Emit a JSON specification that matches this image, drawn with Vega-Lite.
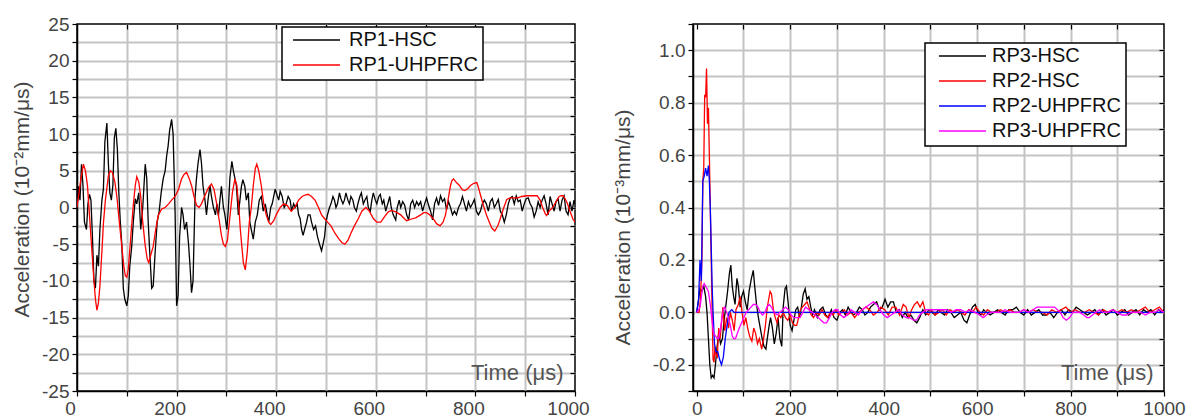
{
"$schema":"https://vega.github.io/schema/vega-lite/v6.json",
"padding":{"left":10,"top":14,"right":5,"bottom":5},
"bounds":"flush",
"spacing":118,
"background":"white",
"config":{
 "view":{"stroke":"black","strokeWidth":1.5},
 "font":"Liberation Sans",
 "axis":{"domainColor":"black","domainWidth":1.5,"tickColor":"black","tickWidth":1.2,"tickSize":5,"gridColor":"#c4c4c4","gridWidth":2,"grid":true,"labelFont":"Liberation Sans","labelFontSize":19,"labelColor":"#444","labelPadding":3,"labelFlush":false,"labelOverlap":false,"titleFont":"Liberation Sans","titleFontSize":21,"titleFontWeight":"normal","titleColor":"#444"},
 "legend":{"orient":"none","strokeColor":"black","strokeWidth":1.5,"fillColor":"white","padding":5,"symbolType":"stroke","symbolSize":2209,"symbolStrokeWidth":1.5,"labelFontSize":20,"labelFont":"Liberation Sans","labelColor":"#111","clipHeight":16,"rowPadding":5,"labelOffset":8,"symbolOffset":5}
},
"resolve":{"scale":{"color":"independent"},"legend":{"color":"independent"}},
"datasets":{
"L":[
{"s":"RP1-HSC","t":0,"v":0},{"s":"RP1-HSC","t":3,"v":2.9},{"s":"RP1-HSC","t":6,"v":1},{"s":"RP1-HSC","t":9,"v":5.9},{"s":"RP1-HSC","t":12,"v":3},{"s":"RP1-HSC","t":15,"v":-2},{"s":"RP1-HSC","t":19,"v":-3},{"s":"RP1-HSC","t":22,"v":0.5},{"s":"RP1-HSC","t":25,"v":1.8},{"s":"RP1-HSC","t":28,"v":1},{"s":"RP1-HSC","t":31,"v":-4},{"s":"RP1-HSC","t":34,"v":-10},{"s":"RP1-HSC","t":37,"v":-11},{"s":"RP1-HSC","t":40,"v":-6.5},{"s":"RP1-HSC","t":43,"v":-8},{"s":"RP1-HSC","t":46,"v":-3},{"s":"RP1-HSC","t":50,"v":1},{"s":"RP1-HSC","t":53,"v":2.5},{"s":"RP1-HSC","t":56,"v":9},{"s":"RP1-HSC","t":60,"v":11.5},{"s":"RP1-HSC","t":63,"v":6},{"s":"RP1-HSC","t":66,"v":2},{"s":"RP1-HSC","t":69,"v":1},{"s":"RP1-HSC","t":72,"v":3},{"s":"RP1-HSC","t":75,"v":9.5},{"s":"RP1-HSC","t":78,"v":10.8},{"s":"RP1-HSC","t":81,"v":8},{"s":"RP1-HSC","t":84,"v":2},{"s":"RP1-HSC","t":87,"v":-2},{"s":"RP1-HSC","t":90,"v":-5},{"s":"RP1-HSC","t":93,"v":-11},{"s":"RP1-HSC","t":96,"v":-12.5},{"s":"RP1-HSC","t":100,"v":-13.4},{"s":"RP1-HSC","t":103,"v":-12},{"s":"RP1-HSC","t":106,"v":-8},{"s":"RP1-HSC","t":110,"v":-5.2},{"s":"RP1-HSC","t":113,"v":-2},{"s":"RP1-HSC","t":117,"v":1.2},{"s":"RP1-HSC","t":120,"v":0.5},{"s":"RP1-HSC","t":124,"v":2},{"s":"RP1-HSC","t":128,"v":-3},{"s":"RP1-HSC","t":132,"v":0},{"s":"RP1-HSC","t":137,"v":5.9},{"s":"RP1-HSC","t":140,"v":4},{"s":"RP1-HSC","t":143,"v":-2},{"s":"RP1-HSC","t":146,"v":-6},{"s":"RP1-HSC","t":150,"v":-11},{"s":"RP1-HSC","t":153,"v":-10.7},{"s":"RP1-HSC","t":157,"v":-6},{"s":"RP1-HSC","t":161,"v":-2},{"s":"RP1-HSC","t":165,"v":-0.5},{"s":"RP1-HSC","t":169,"v":2},{"s":"RP1-HSC","t":173,"v":3.9},{"s":"RP1-HSC","t":177,"v":5},{"s":"RP1-HSC","t":180,"v":7},{"s":"RP1-HSC","t":183,"v":8.4},{"s":"RP1-HSC","t":186,"v":10.5},{"s":"RP1-HSC","t":190,"v":12},{"s":"RP1-HSC","t":193,"v":10},{"s":"RP1-HSC","t":197,"v":-0.7},{"s":"RP1-HSC","t":200,"v":-13.4},{"s":"RP1-HSC","t":203,"v":-12},{"s":"RP1-HSC","t":206,"v":-4},{"s":"RP1-HSC","t":210,"v":0},{"s":"RP1-HSC","t":213,"v":-1},{"s":"RP1-HSC","t":216,"v":-3},{"s":"RP1-HSC","t":220,"v":-2},{"s":"RP1-HSC","t":224,"v":-5},{"s":"RP1-HSC","t":227,"v":-8},{"s":"RP1-HSC","t":230,"v":-11.6},{"s":"RP1-HSC","t":233,"v":-10},{"s":"RP1-HSC","t":237,"v":1.3},{"s":"RP1-HSC","t":240,"v":4},{"s":"RP1-HSC","t":243,"v":6},{"s":"RP1-HSC","t":247,"v":7.9},{"s":"RP1-HSC","t":250,"v":6},{"s":"RP1-HSC","t":253,"v":3},{"s":"RP1-HSC","t":257,"v":1},{"s":"RP1-HSC","t":260,"v":-1},{"s":"RP1-HSC","t":263,"v":1},{"s":"RP1-HSC","t":267,"v":3},{"s":"RP1-HSC","t":270,"v":1.5},{"s":"RP1-HSC","t":274,"v":0},{"s":"RP1-HSC","t":278,"v":-1},{"s":"RP1-HSC","t":281,"v":0.5},{"s":"RP1-HSC","t":284,"v":-1.1},{"s":"RP1-HSC","t":287,"v":1},{"s":"RP1-HSC","t":290,"v":2.9},{"s":"RP1-HSC","t":294,"v":0},{"s":"RP1-HSC","t":297,"v":-1},{"s":"RP1-HSC","t":301,"v":-3},{"s":"RP1-HSC","t":304,"v":0},{"s":"RP1-HSC","t":307,"v":4},{"s":"RP1-HSC","t":311,"v":6.3},{"s":"RP1-HSC","t":314,"v":5},{"s":"RP1-HSC","t":317,"v":4},{"s":"RP1-HSC","t":320,"v":3},{"s":"RP1-HSC","t":324,"v":-1},{"s":"RP1-HSC","t":327,"v":0.9},{"s":"RP1-HSC","t":330,"v":2.8},{"s":"RP1-HSC","t":333,"v":3.8},{"s":"RP1-HSC","t":337,"v":2.9},{"s":"RP1-HSC","t":340,"v":1},{"s":"RP1-HSC","t":344,"v":2},{"s":"RP1-HSC","t":347,"v":-2},{"s":"RP1-HSC","t":350,"v":-3},{"s":"RP1-HSC","t":354,"v":-4.3},{"s":"RP1-HSC","t":358,"v":-2},{"s":"RP1-HSC","t":362,"v":-1},{"s":"RP1-HSC","t":366,"v":1},{"s":"RP1-HSC","t":370,"v":1.5},{"s":"RP1-HSC","t":374,"v":-0.5},{"s":"RP1-HSC","t":378,"v":0.5},{"s":"RP1-HSC","t":382,"v":-1},{"s":"RP1-HSC","t":385,"v":-2},{"s":"RP1-HSC","t":389,"v":0},{"s":"RP1-HSC","t":392,"v":0.5},{"s":"RP1-HSC","t":395,"v":1.5},{"s":"RP1-HSC","t":398,"v":2.5},{"s":"RP1-HSC","t":402,"v":1.6},{"s":"RP1-HSC","t":405,"v":1},{"s":"RP1-HSC","t":408,"v":2.2},{"s":"RP1-HSC","t":412,"v":1.5},{"s":"RP1-HSC","t":416,"v":0},{"s":"RP1-HSC","t":420,"v":0.5},{"s":"RP1-HSC","t":424,"v":1.5},{"s":"RP1-HSC","t":428,"v":1},{"s":"RP1-HSC","t":431,"v":-0.5},{"s":"RP1-HSC","t":435,"v":0.5},{"s":"RP1-HSC","t":438,"v":0},{"s":"RP1-HSC","t":442,"v":0.5},{"s":"RP1-HSC","t":445,"v":-1},{"s":"RP1-HSC","t":448,"v":-1.5},{"s":"RP1-HSC","t":451,"v":-3},{"s":"RP1-HSC","t":454,"v":-3.8},{"s":"RP1-HSC","t":457,"v":-3},{"s":"RP1-HSC","t":461,"v":-2},{"s":"RP1-HSC","t":464,"v":-1},{"s":"RP1-HSC","t":468,"v":-1},{"s":"RP1-HSC","t":471,"v":-2},{"s":"RP1-HSC","t":475,"v":-3},{"s":"RP1-HSC","t":479,"v":-2.5},{"s":"RP1-HSC","t":483,"v":-4},{"s":"RP1-HSC","t":487,"v":-5},{"s":"RP1-HSC","t":491,"v":-5.9},{"s":"RP1-HSC","t":494,"v":-5},{"s":"RP1-HSC","t":497,"v":-4},{"s":"RP1-HSC","t":500,"v":-2},{"s":"RP1-HSC","t":503,"v":-1},{"s":"RP1-HSC","t":507,"v":0},{"s":"RP1-HSC","t":510,"v":0.5},{"s":"RP1-HSC","t":514,"v":1.5},{"s":"RP1-HSC","t":517,"v":1},{"s":"RP1-HSC","t":520,"v":0},{"s":"RP1-HSC","t":523,"v":0.5},{"s":"RP1-HSC","t":527,"v":2},{"s":"RP1-HSC","t":530,"v":1.2},{"s":"RP1-HSC","t":534,"v":0.5},{"s":"RP1-HSC","t":537,"v":1},{"s":"RP1-HSC","t":540,"v":2},{"s":"RP1-HSC","t":544,"v":1},{"s":"RP1-HSC","t":547,"v":0.5},{"s":"RP1-HSC","t":550,"v":1.5},{"s":"RP1-HSC","t":554,"v":1},{"s":"RP1-HSC","t":557,"v":0},{"s":"RP1-HSC","t":561,"v":-0.5},{"s":"RP1-HSC","t":564,"v":0.5},{"s":"RP1-HSC","t":568,"v":1.5},{"s":"RP1-HSC","t":571,"v":2},{"s":"RP1-HSC","t":575,"v":0.5},{"s":"RP1-HSC","t":578,"v":1},{"s":"RP1-HSC","t":582,"v":1.5},{"s":"RP1-HSC","t":585,"v":0},{"s":"RP1-HSC","t":589,"v":-0.5},{"s":"RP1-HSC","t":592,"v":1},{"s":"RP1-HSC","t":595,"v":2},{"s":"RP1-HSC","t":599,"v":1},{"s":"RP1-HSC","t":602,"v":0.5},{"s":"RP1-HSC","t":606,"v":1.5},{"s":"RP1-HSC","t":609,"v":1.8},{"s":"RP1-HSC","t":613,"v":0.5},{"s":"RP1-HSC","t":616,"v":1},{"s":"RP1-HSC","t":620,"v":-0.5},{"s":"RP1-HSC","t":624,"v":0.5},{"s":"RP1-HSC","t":628,"v":1.5},{"s":"RP1-HSC","t":631,"v":0},{"s":"RP1-HSC","t":635,"v":-1},{"s":"RP1-HSC","t":640,"v":-1.7},{"s":"RP1-HSC","t":643,"v":0},{"s":"RP1-HSC","t":647,"v":1},{"s":"RP1-HSC","t":650,"v":0},{"s":"RP1-HSC","t":654,"v":0.8},{"s":"RP1-HSC","t":658,"v":0.3},{"s":"RP1-HSC","t":662,"v":-1},{"s":"RP1-HSC","t":666,"v":-1.7},{"s":"RP1-HSC","t":670,"v":0.5},{"s":"RP1-HSC","t":674,"v":1},{"s":"RP1-HSC","t":678,"v":0},{"s":"RP1-HSC","t":682,"v":0.8},{"s":"RP1-HSC","t":686,"v":0.3},{"s":"RP1-HSC","t":690,"v":0.8},{"s":"RP1-HSC","t":694,"v":-0.5},{"s":"RP1-HSC","t":698,"v":0.5},{"s":"RP1-HSC","t":702,"v":1.3},{"s":"RP1-HSC","t":706,"v":0.3},{"s":"RP1-HSC","t":710,"v":-0.5},{"s":"RP1-HSC","t":714,"v":-1.7},{"s":"RP1-HSC","t":718,"v":0.5},{"s":"RP1-HSC","t":722,"v":1.3},{"s":"RP1-HSC","t":726,"v":0.3},{"s":"RP1-HSC","t":730,"v":1.6},{"s":"RP1-HSC","t":734,"v":0.8},{"s":"RP1-HSC","t":738,"v":1.2},{"s":"RP1-HSC","t":742,"v":-0.3},{"s":"RP1-HSC","t":746,"v":0.8},{"s":"RP1-HSC","t":750,"v":0},{"s":"RP1-HSC","t":754,"v":-1},{"s":"RP1-HSC","t":758,"v":-0.5},{"s":"RP1-HSC","t":762,"v":-1},{"s":"RP1-HSC","t":766,"v":0},{"s":"RP1-HSC","t":770,"v":0.5},{"s":"RP1-HSC","t":774,"v":1.5},{"s":"RP1-HSC","t":778,"v":0.5},{"s":"RP1-HSC","t":782,"v":-0.5},{"s":"RP1-HSC","t":786,"v":0.8},{"s":"RP1-HSC","t":790,"v":0},{"s":"RP1-HSC","t":794,"v":0.5},{"s":"RP1-HSC","t":798,"v":1.1},{"s":"RP1-HSC","t":802,"v":-0.5},{"s":"RP1-HSC","t":806,"v":-1},{"s":"RP1-HSC","t":810,"v":-0.5},{"s":"RP1-HSC","t":814,"v":0.5},{"s":"RP1-HSC","t":818,"v":1},{"s":"RP1-HSC","t":822,"v":0.5},{"s":"RP1-HSC","t":826,"v":-0.5},{"s":"RP1-HSC","t":830,"v":0.8},{"s":"RP1-HSC","t":834,"v":1.2},{"s":"RP1-HSC","t":838,"v":0},{"s":"RP1-HSC","t":842,"v":0.5},{"s":"RP1-HSC","t":846,"v":1.1},{"s":"RP1-HSC","t":850,"v":-0.5},{"s":"RP1-HSC","t":854,"v":-1},{"s":"RP1-HSC","t":858,"v":-2},{"s":"RP1-HSC","t":862,"v":-1},{"s":"RP1-HSC","t":866,"v":0.5},{"s":"RP1-HSC","t":870,"v":1.3},{"s":"RP1-HSC","t":874,"v":1.5},{"s":"RP1-HSC","t":878,"v":0.5},{"s":"RP1-HSC","t":882,"v":1.6},{"s":"RP1-HSC","t":886,"v":0.8},{"s":"RP1-HSC","t":890,"v":1},{"s":"RP1-HSC","t":894,"v":-0.5},{"s":"RP1-HSC","t":898,"v":0.5},{"s":"RP1-HSC","t":902,"v":1.2},{"s":"RP1-HSC","t":906,"v":1.3},{"s":"RP1-HSC","t":910,"v":0.5},{"s":"RP1-HSC","t":914,"v":0},{"s":"RP1-HSC","t":918,"v":-1.3},{"s":"RP1-HSC","t":922,"v":-0.5},{"s":"RP1-HSC","t":926,"v":0.8},{"s":"RP1-HSC","t":930,"v":0},{"s":"RP1-HSC","t":934,"v":1},{"s":"RP1-HSC","t":938,"v":1.6},{"s":"RP1-HSC","t":942,"v":0.5},{"s":"RP1-HSC","t":946,"v":-1},{"s":"RP1-HSC","t":950,"v":1.5},{"s":"RP1-HSC","t":954,"v":0.5},{"s":"RP1-HSC","t":958,"v":-0.5},{"s":"RP1-HSC","t":962,"v":0.8},{"s":"RP1-HSC","t":966,"v":1.2},{"s":"RP1-HSC","t":970,"v":-0.5},{"s":"RP1-HSC","t":974,"v":1},{"s":"RP1-HSC","t":978,"v":1.6},{"s":"RP1-HSC","t":982,"v":-0.5},{"s":"RP1-HSC","t":986,"v":-1},{"s":"RP1-HSC","t":990,"v":0.8},{"s":"RP1-HSC","t":994,"v":-0.5},{"s":"RP1-HSC","t":998,"v":1},{"s":"RP1-HSC","t":1000,"v":0.5},
{"s":"RP1-UHPFRC","t":0,"v":0},{"s":"RP1-UHPFRC","t":4,"v":2},{"s":"RP1-UHPFRC","t":8,"v":4},{"s":"RP1-UHPFRC","t":13,"v":5.9},{"s":"RP1-UHPFRC","t":17,"v":5},{"s":"RP1-UHPFRC","t":21,"v":3},{"s":"RP1-UHPFRC","t":25,"v":-1},{"s":"RP1-UHPFRC","t":29,"v":-5},{"s":"RP1-UHPFRC","t":33,"v":-9},{"s":"RP1-UHPFRC","t":37,"v":-12.5},{"s":"RP1-UHPFRC","t":40,"v":-14},{"s":"RP1-UHPFRC","t":43,"v":-13},{"s":"RP1-UHPFRC","t":46,"v":-10.7},{"s":"RP1-UHPFRC","t":50,"v":-6},{"s":"RP1-UHPFRC","t":53,"v":-2.2},{"s":"RP1-UHPFRC","t":57,"v":1},{"s":"RP1-UHPFRC","t":63,"v":4.3},{"s":"RP1-UHPFRC","t":67,"v":5},{"s":"RP1-UHPFRC","t":71,"v":4.8},{"s":"RP1-UHPFRC","t":76,"v":3.5},{"s":"RP1-UHPFRC","t":80,"v":1.5},{"s":"RP1-UHPFRC","t":85,"v":-2},{"s":"RP1-UHPFRC","t":90,"v":-5.3},{"s":"RP1-UHPFRC","t":94,"v":-8},{"s":"RP1-UHPFRC","t":97,"v":-9.3},{"s":"RP1-UHPFRC","t":100,"v":-9.5},{"s":"RP1-UHPFRC","t":103,"v":-8.4},{"s":"RP1-UHPFRC","t":108,"v":-4},{"s":"RP1-UHPFRC","t":113,"v":0.3},{"s":"RP1-UHPFRC","t":117,"v":3},{"s":"RP1-UHPFRC","t":120,"v":4.2},{"s":"RP1-UHPFRC","t":124,"v":3.5},{"s":"RP1-UHPFRC","t":128,"v":1.5},{"s":"RP1-UHPFRC","t":132,"v":-2},{"s":"RP1-UHPFRC","t":137,"v":-5.2},{"s":"RP1-UHPFRC","t":141,"v":-7},{"s":"RP1-UHPFRC","t":144,"v":-7.5},{"s":"RP1-UHPFRC","t":148,"v":-6.5},{"s":"RP1-UHPFRC","t":153,"v":-5.3},{"s":"RP1-UHPFRC","t":158,"v":-3},{"s":"RP1-UHPFRC","t":163,"v":-1.1},{"s":"RP1-UHPFRC","t":170,"v":-0.2},{"s":"RP1-UHPFRC","t":177,"v":0},{"s":"RP1-UHPFRC","t":184,"v":0.5},{"s":"RP1-UHPFRC","t":190,"v":1},{"s":"RP1-UHPFRC","t":197,"v":1.5},{"s":"RP1-UHPFRC","t":204,"v":2.5},{"s":"RP1-UHPFRC","t":210,"v":3.9},{"s":"RP1-UHPFRC","t":215,"v":4.5},{"s":"RP1-UHPFRC","t":220,"v":4.8},{"s":"RP1-UHPFRC","t":225,"v":4},{"s":"RP1-UHPFRC","t":230,"v":3},{"s":"RP1-UHPFRC","t":235,"v":1.5},{"s":"RP1-UHPFRC","t":240,"v":0.3},{"s":"RP1-UHPFRC","t":245,"v":0},{"s":"RP1-UHPFRC","t":250,"v":0.5},{"s":"RP1-UHPFRC","t":256,"v":1.5},{"s":"RP1-UHPFRC","t":264,"v":2.7},{"s":"RP1-UHPFRC","t":270,"v":3.2},{"s":"RP1-UHPFRC","t":275,"v":2.5},{"s":"RP1-UHPFRC","t":280,"v":0.7},{"s":"RP1-UHPFRC","t":285,"v":-1.5},{"s":"RP1-UHPFRC","t":290,"v":-3.8},{"s":"RP1-UHPFRC","t":294,"v":-5},{"s":"RP1-UHPFRC","t":298,"v":-5.3},{"s":"RP1-UHPFRC","t":302,"v":-4.5},{"s":"RP1-UHPFRC","t":307,"v":-1.3},{"s":"RP1-UHPFRC","t":312,"v":2},{"s":"RP1-UHPFRC","t":317,"v":3.9},{"s":"RP1-UHPFRC","t":321,"v":3},{"s":"RP1-UHPFRC","t":325,"v":0},{"s":"RP1-UHPFRC","t":328,"v":-3},{"s":"RP1-UHPFRC","t":331,"v":-5.3},{"s":"RP1-UHPFRC","t":334,"v":-7.5},{"s":"RP1-UHPFRC","t":338,"v":-8.5},{"s":"RP1-UHPFRC","t":342,"v":-6},{"s":"RP1-UHPFRC","t":346,"v":-2},{"s":"RP1-UHPFRC","t":350,"v":0},{"s":"RP1-UHPFRC","t":354,"v":3},{"s":"RP1-UHPFRC","t":358,"v":5.3},{"s":"RP1-UHPFRC","t":361,"v":5.9},{"s":"RP1-UHPFRC","t":365,"v":5},{"s":"RP1-UHPFRC","t":370,"v":3},{"s":"RP1-UHPFRC","t":375,"v":0.5},{"s":"RP1-UHPFRC","t":380,"v":-1},{"s":"RP1-UHPFRC","t":385,"v":-2},{"s":"RP1-UHPFRC","t":389,"v":-2.3},{"s":"RP1-UHPFRC","t":395,"v":-1.8},{"s":"RP1-UHPFRC","t":400,"v":-1},{"s":"RP1-UHPFRC","t":408,"v":0},{"s":"RP1-UHPFRC","t":415,"v":0.5},{"s":"RP1-UHPFRC","t":422,"v":0.3},{"s":"RP1-UHPFRC","t":430,"v":-0.5},{"s":"RP1-UHPFRC","t":437,"v":0},{"s":"RP1-UHPFRC","t":445,"v":1},{"s":"RP1-UHPFRC","t":452,"v":1.5},{"s":"RP1-UHPFRC","t":458,"v":1.7},{"s":"RP1-UHPFRC","t":464,"v":1.8},{"s":"RP1-UHPFRC","t":471,"v":1.5},{"s":"RP1-UHPFRC","t":478,"v":1},{"s":"RP1-UHPFRC","t":485,"v":0},{"s":"RP1-UHPFRC","t":491,"v":-1},{"s":"RP1-UHPFRC","t":497,"v":-1.5},{"s":"RP1-UHPFRC","t":503,"v":-2},{"s":"RP1-UHPFRC","t":510,"v":-2.5},{"s":"RP1-UHPFRC","t":518,"v":-3.5},{"s":"RP1-UHPFRC","t":525,"v":-4.2},{"s":"RP1-UHPFRC","t":532,"v":-4.8},{"s":"RP1-UHPFRC","t":538,"v":-5},{"s":"RP1-UHPFRC","t":544,"v":-4.5},{"s":"RP1-UHPFRC","t":550,"v":-3.5},{"s":"RP1-UHPFRC","t":557,"v":-2.5},{"s":"RP1-UHPFRC","t":565,"v":-1.5},{"s":"RP1-UHPFRC","t":572,"v":-0.5},{"s":"RP1-UHPFRC","t":580,"v":0},{"s":"RP1-UHPFRC","t":587,"v":-0.5},{"s":"RP1-UHPFRC","t":595,"v":-1.5},{"s":"RP1-UHPFRC","t":602,"v":-2},{"s":"RP1-UHPFRC","t":610,"v":-2},{"s":"RP1-UHPFRC","t":618,"v":-1.2},{"s":"RP1-UHPFRC","t":625,"v":-0.6},{"s":"RP1-UHPFRC","t":632,"v":-0.4},{"s":"RP1-UHPFRC","t":640,"v":-0.6},{"s":"RP1-UHPFRC","t":650,"v":-1},{"s":"RP1-UHPFRC","t":657,"v":-1.5},{"s":"RP1-UHPFRC","t":662,"v":-1.8},{"s":"RP1-UHPFRC","t":670,"v":-1.6},{"s":"RP1-UHPFRC","t":680,"v":-1.4},{"s":"RP1-UHPFRC","t":690,"v":-1},{"s":"RP1-UHPFRC","t":696,"v":-0.7},{"s":"RP1-UHPFRC","t":702,"v":-0.7},{"s":"RP1-UHPFRC","t":708,"v":-1},{"s":"RP1-UHPFRC","t":715,"v":-1.5},{"s":"RP1-UHPFRC","t":722,"v":-2.2},{"s":"RP1-UHPFRC","t":729,"v":-2.5},{"s":"RP1-UHPFRC","t":735,"v":-2},{"s":"RP1-UHPFRC","t":740,"v":-1},{"s":"RP1-UHPFRC","t":745,"v":1},{"s":"RP1-UHPFRC","t":750,"v":3},{"s":"RP1-UHPFRC","t":753,"v":3.7},{"s":"RP1-UHPFRC","t":756,"v":3.9},{"s":"RP1-UHPFRC","t":762,"v":3.4},{"s":"RP1-UHPFRC","t":768,"v":3},{"s":"RP1-UHPFRC","t":774,"v":2.4},{"s":"RP1-UHPFRC","t":779,"v":2.3},{"s":"RP1-UHPFRC","t":785,"v":2.6},{"s":"RP1-UHPFRC","t":790,"v":3},{"s":"RP1-UHPFRC","t":797,"v":3.3},{"s":"RP1-UHPFRC","t":803,"v":3.4},{"s":"RP1-UHPFRC","t":807,"v":2.5},{"s":"RP1-UHPFRC","t":811,"v":1.5},{"s":"RP1-UHPFRC","t":816,"v":0.3},{"s":"RP1-UHPFRC","t":822,"v":-1},{"s":"RP1-UHPFRC","t":828,"v":-2},{"s":"RP1-UHPFRC","t":833,"v":-2.8},{"s":"RP1-UHPFRC","t":839,"v":-3.2},{"s":"RP1-UHPFRC","t":845,"v":-2.5},{"s":"RP1-UHPFRC","t":850,"v":-1.5},{"s":"RP1-UHPFRC","t":856,"v":-0.2},{"s":"RP1-UHPFRC","t":863,"v":1.1},{"s":"RP1-UHPFRC","t":870,"v":1.3},{"s":"RP1-UHPFRC","t":878,"v":1.3},{"s":"RP1-UHPFRC","t":885,"v":1.3},{"s":"RP1-UHPFRC","t":893,"v":1.5},{"s":"RP1-UHPFRC","t":903,"v":1.6},{"s":"RP1-UHPFRC","t":914,"v":1.6},{"s":"RP1-UHPFRC","t":924,"v":1.6},{"s":"RP1-UHPFRC","t":930,"v":1},{"s":"RP1-UHPFRC","t":935,"v":0},{"s":"RP1-UHPFRC","t":940,"v":-0.8},{"s":"RP1-UHPFRC","t":943,"v":-1.1},{"s":"RP1-UHPFRC","t":948,"v":-0.5},{"s":"RP1-UHPFRC","t":955,"v":0},{"s":"RP1-UHPFRC","t":962,"v":0.8},{"s":"RP1-UHPFRC","t":968,"v":1.5},{"s":"RP1-UHPFRC","t":972,"v":1.6},{"s":"RP1-UHPFRC","t":976,"v":1.6},{"s":"RP1-UHPFRC","t":980,"v":1.2},{"s":"RP1-UHPFRC","t":985,"v":0.5},{"s":"RP1-UHPFRC","t":990,"v":-0.5},{"s":"RP1-UHPFRC","t":996,"v":-1.6},{"s":"RP1-UHPFRC","t":1000,"v":-2}
],
"R":[
{"s":"RP3-HSC","t":0,"v":0},{"s":"RP3-HSC","t":4,"v":0.05},{"s":"RP3-HSC","t":7,"v":0.09},{"s":"RP3-HSC","t":11,"v":0.08},{"s":"RP3-HSC","t":15,"v":0.1},{"s":"RP3-HSC","t":19,"v":0.06},{"s":"RP3-HSC","t":22,"v":0},{"s":"RP3-HSC","t":25,"v":-0.1},{"s":"RP3-HSC","t":28,"v":-0.2},{"s":"RP3-HSC","t":31,"v":-0.25},{"s":"RP3-HSC","t":34,"v":-0.24},{"s":"RP3-HSC","t":37,"v":-0.25},{"s":"RP3-HSC","t":40,"v":-0.2},{"s":"RP3-HSC","t":43,"v":-0.14},{"s":"RP3-HSC","t":47,"v":-0.08},{"s":"RP3-HSC","t":51,"v":-0.12},{"s":"RP3-HSC","t":55,"v":-0.1},{"s":"RP3-HSC","t":58,"v":-0.04},{"s":"RP3-HSC","t":62,"v":0.02},{"s":"RP3-HSC","t":66,"v":0.08},{"s":"RP3-HSC","t":70,"v":0.15},{"s":"RP3-HSC","t":73,"v":0.18},{"s":"RP3-HSC","t":76,"v":0.1},{"s":"RP3-HSC","t":79,"v":0.06},{"s":"RP3-HSC","t":82,"v":0.03},{"s":"RP3-HSC","t":86,"v":0.13},{"s":"RP3-HSC","t":89,"v":0.1},{"s":"RP3-HSC","t":93,"v":0.02},{"s":"RP3-HSC","t":96,"v":0.06},{"s":"RP3-HSC","t":100,"v":0.08},{"s":"RP3-HSC","t":104,"v":0.04},{"s":"RP3-HSC","t":108,"v":0.01},{"s":"RP3-HSC","t":112,"v":0.08},{"s":"RP3-HSC","t":117,"v":0.13},{"s":"RP3-HSC","t":121,"v":0.16},{"s":"RP3-HSC","t":124,"v":0.1},{"s":"RP3-HSC","t":128,"v":0.03},{"s":"RP3-HSC","t":132,"v":-0.02},{"s":"RP3-HSC","t":136,"v":-0.06},{"s":"RP3-HSC","t":140,"v":-0.1},{"s":"RP3-HSC","t":144,"v":-0.13},{"s":"RP3-HSC","t":148,"v":-0.14},{"s":"RP3-HSC","t":151,"v":-0.1},{"s":"RP3-HSC","t":155,"v":-0.05},{"s":"RP3-HSC","t":158,"v":-0.02},{"s":"RP3-HSC","t":162,"v":-0.06},{"s":"RP3-HSC","t":166,"v":-0.12},{"s":"RP3-HSC","t":170,"v":-0.08},{"s":"RP3-HSC","t":174,"v":-0.02},{"s":"RP3-HSC","t":178,"v":-0.1},{"s":"RP3-HSC","t":182,"v":-0.13},{"s":"RP3-HSC","t":185,"v":0.02},{"s":"RP3-HSC","t":189,"v":0.09},{"s":"RP3-HSC","t":192,"v":0.1},{"s":"RP3-HSC","t":196,"v":0.03},{"s":"RP3-HSC","t":200,"v":-0.05},{"s":"RP3-HSC","t":204,"v":-0.07},{"s":"RP3-HSC","t":208,"v":-0.03},{"s":"RP3-HSC","t":212,"v":0.01},{"s":"RP3-HSC","t":216,"v":0.02},{"s":"RP3-HSC","t":220,"v":-0.02},{"s":"RP3-HSC","t":224,"v":0.02},{"s":"RP3-HSC","t":228,"v":0.07},{"s":"RP3-HSC","t":232,"v":0.09},{"s":"RP3-HSC","t":236,"v":0.05},{"s":"RP3-HSC","t":240,"v":0.06},{"s":"RP3-HSC","t":244,"v":0.02},{"s":"RP3-HSC","t":248,"v":-0.01},{"s":"RP3-HSC","t":252,"v":0.01},{"s":"RP3-HSC","t":258,"v":-0.02},{"s":"RP3-HSC","t":264,"v":0.01},{"s":"RP3-HSC","t":270,"v":0.02},{"s":"RP3-HSC","t":276,"v":-0.01},{"s":"RP3-HSC","t":282,"v":-0.02},{"s":"RP3-HSC","t":288,"v":0.01},{"s":"RP3-HSC","t":294,"v":-0.02},{"s":"RP3-HSC","t":300,"v":-0.03},{"s":"RP3-HSC","t":306,"v":0},{"s":"RP3-HSC","t":312,"v":0.01},{"s":"RP3-HSC","t":318,"v":-0.01},{"s":"RP3-HSC","t":324,"v":0.02},{"s":"RP3-HSC","t":330,"v":0},{"s":"RP3-HSC","t":336,"v":-0.01},{"s":"RP3-HSC","t":342,"v":0},{"s":"RP3-HSC","t":348,"v":0.02},{"s":"RP3-HSC","t":354,"v":0.01},{"s":"RP3-HSC","t":360,"v":-0.01},{"s":"RP3-HSC","t":366,"v":0},{"s":"RP3-HSC","t":372,"v":0.02},{"s":"RP3-HSC","t":378,"v":0.03},{"s":"RP3-HSC","t":385,"v":0.04},{"s":"RP3-HSC","t":391,"v":0.01},{"s":"RP3-HSC","t":397,"v":0.02},{"s":"RP3-HSC","t":403,"v":0.05},{"s":"RP3-HSC","t":409,"v":0.02},{"s":"RP3-HSC","t":415,"v":0.04},{"s":"RP3-HSC","t":421,"v":0.04},{"s":"RP3-HSC","t":427,"v":0},{"s":"RP3-HSC","t":433,"v":0.01},{"s":"RP3-HSC","t":440,"v":-0.02},{"s":"RP3-HSC","t":446,"v":0},{"s":"RP3-HSC","t":452,"v":-0.02},{"s":"RP3-HSC","t":458,"v":-0.01},{"s":"RP3-HSC","t":465,"v":-0.03},{"s":"RP3-HSC","t":471,"v":-0.04},{"s":"RP3-HSC","t":477,"v":-0.02},{"s":"RP3-HSC","t":484,"v":0.01},{"s":"RP3-HSC","t":490,"v":-0.01},{"s":"RP3-HSC","t":497,"v":0.01},{"s":"RP3-HSC","t":503,"v":0},{"s":"RP3-HSC","t":510,"v":-0.01},{"s":"RP3-HSC","t":517,"v":0.01},{"s":"RP3-HSC","t":523,"v":0},{"s":"RP3-HSC","t":530,"v":-0.01},{"s":"RP3-HSC","t":537,"v":0.01},{"s":"RP3-HSC","t":544,"v":0},{"s":"RP3-HSC","t":551,"v":-0.02},{"s":"RP3-HSC","t":558,"v":-0.01},{"s":"RP3-HSC","t":565,"v":0},{"s":"RP3-HSC","t":572,"v":-0.03},{"s":"RP3-HSC","t":578,"v":-0.04},{"s":"RP3-HSC","t":584,"v":-0.01},{"s":"RP3-HSC","t":590,"v":0.02},{"s":"RP3-HSC","t":596,"v":0.03},{"s":"RP3-HSC","t":602,"v":0},{"s":"RP3-HSC","t":608,"v":-0.01},{"s":"RP3-HSC","t":614,"v":0.01},{"s":"RP3-HSC","t":620,"v":0},{"s":"RP3-HSC","t":628,"v":-0.01},{"s":"RP3-HSC","t":636,"v":0},{"s":"RP3-HSC","t":644,"v":0.01},{"s":"RP3-HSC","t":652,"v":0},{"s":"RP3-HSC","t":660,"v":-0.01},{"s":"RP3-HSC","t":668,"v":0.01},{"s":"RP3-HSC","t":676,"v":0.01},{"s":"RP3-HSC","t":684,"v":0.02},{"s":"RP3-HSC","t":692,"v":0},{"s":"RP3-HSC","t":700,"v":-0.01},{"s":"RP3-HSC","t":708,"v":0.01},{"s":"RP3-HSC","t":716,"v":-0.01},{"s":"RP3-HSC","t":724,"v":0},{"s":"RP3-HSC","t":732,"v":0.01},{"s":"RP3-HSC","t":740,"v":-0.01},{"s":"RP3-HSC","t":748,"v":-0.01},{"s":"RP3-HSC","t":756,"v":0},{"s":"RP3-HSC","t":764,"v":-0.02},{"s":"RP3-HSC","t":772,"v":0},{"s":"RP3-HSC","t":780,"v":0.01},{"s":"RP3-HSC","t":788,"v":-0.01},{"s":"RP3-HSC","t":796,"v":0.01},{"s":"RP3-HSC","t":804,"v":0},{"s":"RP3-HSC","t":812,"v":0.02},{"s":"RP3-HSC","t":820,"v":0.01},{"s":"RP3-HSC","t":828,"v":0},{"s":"RP3-HSC","t":836,"v":-0.01},{"s":"RP3-HSC","t":844,"v":0},{"s":"RP3-HSC","t":852,"v":0.01},{"s":"RP3-HSC","t":860,"v":-0.01},{"s":"RP3-HSC","t":868,"v":0.01},{"s":"RP3-HSC","t":876,"v":-0.01},{"s":"RP3-HSC","t":884,"v":0},{"s":"RP3-HSC","t":892,"v":0.01},{"s":"RP3-HSC","t":900,"v":-0.01},{"s":"RP3-HSC","t":908,"v":0},{"s":"RP3-HSC","t":916,"v":0.01},{"s":"RP3-HSC","t":924,"v":-0.01},{"s":"RP3-HSC","t":932,"v":0},{"s":"RP3-HSC","t":940,"v":0.01},{"s":"RP3-HSC","t":948,"v":-0.01},{"s":"RP3-HSC","t":956,"v":0.01},{"s":"RP3-HSC","t":964,"v":0},{"s":"RP3-HSC","t":972,"v":0.01},{"s":"RP3-HSC","t":980,"v":-0.01},{"s":"RP3-HSC","t":988,"v":0.01},{"s":"RP3-HSC","t":996,"v":0},{"s":"RP3-HSC","t":1000,"v":0.01},
{"s":"RP2-HSC","t":0,"v":0},{"s":"RP2-HSC","t":5,"v":0},{"s":"RP2-HSC","t":8,"v":0.05},{"s":"RP2-HSC","t":11,"v":0.2},{"s":"RP2-HSC","t":13,"v":0.5},{"s":"RP2-HSC","t":15,"v":0.55},{"s":"RP2-HSC","t":17,"v":0.83},{"s":"RP2-HSC","t":19,"v":0.82},{"s":"RP2-HSC","t":21,"v":0.93},{"s":"RP2-HSC","t":23,"v":0.72},{"s":"RP2-HSC","t":25,"v":0.78},{"s":"RP2-HSC","t":27,"v":0.6},{"s":"RP2-HSC","t":29,"v":0.4},{"s":"RP2-HSC","t":31,"v":0.2},{"s":"RP2-HSC","t":33,"v":0},{"s":"RP2-HSC","t":35,"v":-0.18},{"s":"RP2-HSC","t":37,"v":-0.19},{"s":"RP2-HSC","t":39,"v":-0.13},{"s":"RP2-HSC","t":41,"v":-0.16},{"s":"RP2-HSC","t":44,"v":-0.17},{"s":"RP2-HSC","t":47,"v":-0.06},{"s":"RP2-HSC","t":50,"v":-0.1},{"s":"RP2-HSC","t":53,"v":-0.04},{"s":"RP2-HSC","t":56,"v":0.02},{"s":"RP2-HSC","t":60,"v":-0.07},{"s":"RP2-HSC","t":64,"v":-0.02},{"s":"RP2-HSC","t":68,"v":-0.06},{"s":"RP2-HSC","t":72,"v":0},{"s":"RP2-HSC","t":76,"v":-0.03},{"s":"RP2-HSC","t":80,"v":-0.07},{"s":"RP2-HSC","t":84,"v":0.01},{"s":"RP2-HSC","t":89,"v":0.03},{"s":"RP2-HSC","t":93,"v":0.06},{"s":"RP2-HSC","t":97,"v":0},{"s":"RP2-HSC","t":101,"v":-0.05},{"s":"RP2-HSC","t":105,"v":-0.02},{"s":"RP2-HSC","t":109,"v":-0.06},{"s":"RP2-HSC","t":113,"v":-0.09},{"s":"RP2-HSC","t":118,"v":-0.11},{"s":"RP2-HSC","t":122,"v":-0.06},{"s":"RP2-HSC","t":126,"v":-0.08},{"s":"RP2-HSC","t":130,"v":-0.12},{"s":"RP2-HSC","t":134,"v":-0.1},{"s":"RP2-HSC","t":139,"v":-0.14},{"s":"RP2-HSC","t":143,"v":-0.1},{"s":"RP2-HSC","t":147,"v":-0.05},{"s":"RP2-HSC","t":151,"v":0.02},{"s":"RP2-HSC","t":154,"v":0.05},{"s":"RP2-HSC","t":157,"v":0.08},{"s":"RP2-HSC","t":160,"v":0.07},{"s":"RP2-HSC","t":164,"v":0.01},{"s":"RP2-HSC","t":168,"v":-0.02},{"s":"RP2-HSC","t":172,"v":-0.04},{"s":"RP2-HSC","t":176,"v":-0.01},{"s":"RP2-HSC","t":180,"v":-0.02},{"s":"RP2-HSC","t":185,"v":0},{"s":"RP2-HSC","t":190,"v":-0.02},{"s":"RP2-HSC","t":195,"v":-0.03},{"s":"RP2-HSC","t":200,"v":-0.01},{"s":"RP2-HSC","t":205,"v":-0.04},{"s":"RP2-HSC","t":210,"v":-0.05},{"s":"RP2-HSC","t":214,"v":-0.05},{"s":"RP2-HSC","t":218,"v":-0.02},{"s":"RP2-HSC","t":222,"v":0.01},{"s":"RP2-HSC","t":226,"v":0.02},{"s":"RP2-HSC","t":231,"v":0.03},{"s":"RP2-HSC","t":236,"v":0.04},{"s":"RP2-HSC","t":240,"v":0.02},{"s":"RP2-HSC","t":245,"v":-0.01},{"s":"RP2-HSC","t":250,"v":-0.02},{"s":"RP2-HSC","t":256,"v":0},{"s":"RP2-HSC","t":262,"v":-0.01},{"s":"RP2-HSC","t":268,"v":0.01},{"s":"RP2-HSC","t":274,"v":-0.01},{"s":"RP2-HSC","t":280,"v":-0.02},{"s":"RP2-HSC","t":286,"v":0},{"s":"RP2-HSC","t":292,"v":-0.01},{"s":"RP2-HSC","t":298,"v":0.01},{"s":"RP2-HSC","t":304,"v":-0.01},{"s":"RP2-HSC","t":310,"v":0},{"s":"RP2-HSC","t":316,"v":0.01},{"s":"RP2-HSC","t":322,"v":-0.01},{"s":"RP2-HSC","t":330,"v":0},{"s":"RP2-HSC","t":338,"v":-0.02},{"s":"RP2-HSC","t":346,"v":0},{"s":"RP2-HSC","t":354,"v":0.01},{"s":"RP2-HSC","t":362,"v":0.02},{"s":"RP2-HSC","t":370,"v":0.01},{"s":"RP2-HSC","t":378,"v":-0.01},{"s":"RP2-HSC","t":386,"v":0},{"s":"RP2-HSC","t":394,"v":0.02},{"s":"RP2-HSC","t":402,"v":0.01},{"s":"RP2-HSC","t":410,"v":-0.01},{"s":"RP2-HSC","t":418,"v":0.02},{"s":"RP2-HSC","t":426,"v":0.02},{"s":"RP2-HSC","t":434,"v":-0.01},{"s":"RP2-HSC","t":442,"v":0.03},{"s":"RP2-HSC","t":448,"v":0.02},{"s":"RP2-HSC","t":454,"v":-0.02},{"s":"RP2-HSC","t":460,"v":0.01},{"s":"RP2-HSC","t":466,"v":0.03},{"s":"RP2-HSC","t":472,"v":0.04},{"s":"RP2-HSC","t":478,"v":0.02},{"s":"RP2-HSC","t":484,"v":0.04},{"s":"RP2-HSC","t":490,"v":0},{"s":"RP2-HSC","t":496,"v":-0.01},{"s":"RP2-HSC","t":502,"v":0.01},{"s":"RP2-HSC","t":510,"v":-0.01},{"s":"RP2-HSC","t":518,"v":0},{"s":"RP2-HSC","t":526,"v":0.01},{"s":"RP2-HSC","t":534,"v":-0.01},{"s":"RP2-HSC","t":542,"v":0.01},{"s":"RP2-HSC","t":550,"v":0},{"s":"RP2-HSC","t":558,"v":0.01},{"s":"RP2-HSC","t":566,"v":0},{"s":"RP2-HSC","t":574,"v":-0.01},{"s":"RP2-HSC","t":582,"v":0.01},{"s":"RP2-HSC","t":590,"v":0},{"s":"RP2-HSC","t":598,"v":0.02},{"s":"RP2-HSC","t":606,"v":0},{"s":"RP2-HSC","t":614,"v":-0.01},{"s":"RP2-HSC","t":622,"v":0.01},{"s":"RP2-HSC","t":630,"v":0},{"s":"RP2-HSC","t":640,"v":0},{"s":"RP2-HSC","t":650,"v":0.01},{"s":"RP2-HSC","t":660,"v":0},{"s":"RP2-HSC","t":670,"v":0.01},{"s":"RP2-HSC","t":680,"v":0},{"s":"RP2-HSC","t":690,"v":0},{"s":"RP2-HSC","t":700,"v":0.01},{"s":"RP2-HSC","t":710,"v":0},{"s":"RP2-HSC","t":720,"v":0.01},{"s":"RP2-HSC","t":730,"v":0},{"s":"RP2-HSC","t":740,"v":0},{"s":"RP2-HSC","t":750,"v":-0.01},{"s":"RP2-HSC","t":760,"v":0.01},{"s":"RP2-HSC","t":770,"v":0},{"s":"RP2-HSC","t":780,"v":0.01},{"s":"RP2-HSC","t":790,"v":0.02},{"s":"RP2-HSC","t":800,"v":0},{"s":"RP2-HSC","t":810,"v":0.01},{"s":"RP2-HSC","t":820,"v":0},{"s":"RP2-HSC","t":830,"v":0},{"s":"RP2-HSC","t":840,"v":0.01},{"s":"RP2-HSC","t":850,"v":0},{"s":"RP2-HSC","t":860,"v":-0.01},{"s":"RP2-HSC","t":870,"v":0.01},{"s":"RP2-HSC","t":880,"v":0},{"s":"RP2-HSC","t":890,"v":0.01},{"s":"RP2-HSC","t":900,"v":0},{"s":"RP2-HSC","t":910,"v":0.01},{"s":"RP2-HSC","t":920,"v":0},{"s":"RP2-HSC","t":930,"v":0.01},{"s":"RP2-HSC","t":940,"v":0},{"s":"RP2-HSC","t":950,"v":0.01},{"s":"RP2-HSC","t":960,"v":0.02},{"s":"RP2-HSC","t":970,"v":0},{"s":"RP2-HSC","t":980,"v":0.01},{"s":"RP2-HSC","t":990,"v":0.02},{"s":"RP2-HSC","t":1000,"v":0},
{"s":"RP2-UHPFRC","t":0,"v":0},{"s":"RP2-UHPFRC","t":4,"v":0.05},{"s":"RP2-UHPFRC","t":7,"v":0.2},{"s":"RP2-UHPFRC","t":10,"v":0.12},{"s":"RP2-UHPFRC","t":13,"v":0.5},{"s":"RP2-UHPFRC","t":16,"v":0.52},{"s":"RP2-UHPFRC","t":19,"v":0.55},{"s":"RP2-UHPFRC","t":22,"v":0.52},{"s":"RP2-UHPFRC","t":25,"v":0.56},{"s":"RP2-UHPFRC","t":27,"v":0.5},{"s":"RP2-UHPFRC","t":29,"v":0.4},{"s":"RP2-UHPFRC","t":31,"v":0.25},{"s":"RP2-UHPFRC","t":33,"v":0.1},{"s":"RP2-UHPFRC","t":35,"v":0},{"s":"RP2-UHPFRC","t":38,"v":-0.12},{"s":"RP2-UHPFRC","t":41,"v":-0.15},{"s":"RP2-UHPFRC","t":45,"v":-0.15},{"s":"RP2-UHPFRC","t":49,"v":-0.18},{"s":"RP2-UHPFRC","t":53,"v":-0.2},{"s":"RP2-UHPFRC","t":57,"v":-0.17},{"s":"RP2-UHPFRC","t":61,"v":-0.1},{"s":"RP2-UHPFRC","t":65,"v":-0.05},{"s":"RP2-UHPFRC","t":69,"v":0},{"s":"RP2-UHPFRC","t":75,"v":0.01},{"s":"RP2-UHPFRC","t":80,"v":0},{"s":"RP2-UHPFRC","t":200,"v":0},{"s":"RP2-UHPFRC","t":400,"v":0},{"s":"RP2-UHPFRC","t":600,"v":0},{"s":"RP2-UHPFRC","t":800,"v":0},{"s":"RP2-UHPFRC","t":1000,"v":0},
{"s":"RP3-UHPFRC","t":0,"v":0},{"s":"RP3-UHPFRC","t":4,"v":0.01},{"s":"RP3-UHPFRC","t":7,"v":0.02},{"s":"RP3-UHPFRC","t":10,"v":0.06},{"s":"RP3-UHPFRC","t":13,"v":0.1},{"s":"RP3-UHPFRC","t":16,"v":0.11},{"s":"RP3-UHPFRC","t":19,"v":0.1},{"s":"RP3-UHPFRC","t":22,"v":0.09},{"s":"RP3-UHPFRC","t":25,"v":0.08},{"s":"RP3-UHPFRC","t":29,"v":0.03},{"s":"RP3-UHPFRC","t":32,"v":-0.02},{"s":"RP3-UHPFRC","t":36,"v":-0.08},{"s":"RP3-UHPFRC","t":40,"v":-0.09},{"s":"RP3-UHPFRC","t":44,"v":-0.1},{"s":"RP3-UHPFRC","t":47,"v":-0.1},{"s":"RP3-UHPFRC","t":51,"v":-0.06},{"s":"RP3-UHPFRC","t":54,"v":-0.02},{"s":"RP3-UHPFRC","t":57,"v":0.01},{"s":"RP3-UHPFRC","t":60,"v":0.02},{"s":"RP3-UHPFRC","t":64,"v":0},{"s":"RP3-UHPFRC","t":68,"v":-0.02},{"s":"RP3-UHPFRC","t":72,"v":-0.05},{"s":"RP3-UHPFRC","t":76,"v":-0.09},{"s":"RP3-UHPFRC","t":79,"v":-0.1},{"s":"RP3-UHPFRC","t":83,"v":-0.1},{"s":"RP3-UHPFRC","t":87,"v":-0.08},{"s":"RP3-UHPFRC","t":91,"v":-0.06},{"s":"RP3-UHPFRC","t":96,"v":-0.04},{"s":"RP3-UHPFRC","t":101,"v":-0.02},{"s":"RP3-UHPFRC","t":106,"v":0},{"s":"RP3-UHPFRC","t":111,"v":0.01},{"s":"RP3-UHPFRC","t":116,"v":0.02},{"s":"RP3-UHPFRC","t":121,"v":0.03},{"s":"RP3-UHPFRC","t":126,"v":0.03},{"s":"RP3-UHPFRC","t":131,"v":0.02},{"s":"RP3-UHPFRC","t":136,"v":0},{"s":"RP3-UHPFRC","t":141,"v":-0.01},{"s":"RP3-UHPFRC","t":146,"v":0},{"s":"RP3-UHPFRC","t":150,"v":0.02},{"s":"RP3-UHPFRC","t":155,"v":0.03},{"s":"RP3-UHPFRC","t":160,"v":0.02},{"s":"RP3-UHPFRC","t":166,"v":0},{"s":"RP3-UHPFRC","t":172,"v":-0.01},{"s":"RP3-UHPFRC","t":178,"v":0},{"s":"RP3-UHPFRC","t":184,"v":0.01},{"s":"RP3-UHPFRC","t":190,"v":0.02},{"s":"RP3-UHPFRC","t":196,"v":0.01},{"s":"RP3-UHPFRC","t":202,"v":-0.01},{"s":"RP3-UHPFRC","t":208,"v":-0.02},{"s":"RP3-UHPFRC","t":214,"v":-0.02},{"s":"RP3-UHPFRC","t":221,"v":-0.02},{"s":"RP3-UHPFRC","t":227,"v":0},{"s":"RP3-UHPFRC","t":233,"v":0.02},{"s":"RP3-UHPFRC","t":240,"v":0.01},{"s":"RP3-UHPFRC","t":247,"v":0},{"s":"RP3-UHPFRC","t":253,"v":-0.01},{"s":"RP3-UHPFRC","t":260,"v":-0.02},{"s":"RP3-UHPFRC","t":266,"v":-0.03},{"s":"RP3-UHPFRC","t":272,"v":-0.04},{"s":"RP3-UHPFRC","t":278,"v":-0.04},{"s":"RP3-UHPFRC","t":284,"v":-0.02},{"s":"RP3-UHPFRC","t":290,"v":0},{"s":"RP3-UHPFRC","t":296,"v":0.01},{"s":"RP3-UHPFRC","t":302,"v":0.01},{"s":"RP3-UHPFRC","t":308,"v":-0.01},{"s":"RP3-UHPFRC","t":315,"v":-0.02},{"s":"RP3-UHPFRC","t":322,"v":-0.01},{"s":"RP3-UHPFRC","t":330,"v":0.01},{"s":"RP3-UHPFRC","t":338,"v":0},{"s":"RP3-UHPFRC","t":346,"v":-0.01},{"s":"RP3-UHPFRC","t":354,"v":0.01},{"s":"RP3-UHPFRC","t":362,"v":0.02},{"s":"RP3-UHPFRC","t":370,"v":0.03},{"s":"RP3-UHPFRC","t":378,"v":0.04},{"s":"RP3-UHPFRC","t":385,"v":0.03},{"s":"RP3-UHPFRC","t":392,"v":0.01},{"s":"RP3-UHPFRC","t":400,"v":-0.01},{"s":"RP3-UHPFRC","t":408,"v":-0.02},{"s":"RP3-UHPFRC","t":416,"v":-0.01},{"s":"RP3-UHPFRC","t":424,"v":0},{"s":"RP3-UHPFRC","t":432,"v":0.01},{"s":"RP3-UHPFRC","t":440,"v":-0.01},{"s":"RP3-UHPFRC","t":448,"v":-0.02},{"s":"RP3-UHPFRC","t":456,"v":-0.02},{"s":"RP3-UHPFRC","t":464,"v":-0.03},{"s":"RP3-UHPFRC","t":470,"v":-0.03},{"s":"RP3-UHPFRC","t":477,"v":-0.01},{"s":"RP3-UHPFRC","t":484,"v":0},{"s":"RP3-UHPFRC","t":490,"v":0.01},{"s":"RP3-UHPFRC","t":497,"v":0.01},{"s":"RP3-UHPFRC","t":505,"v":0.01},{"s":"RP3-UHPFRC","t":515,"v":0.01},{"s":"RP3-UHPFRC","t":525,"v":0.01},{"s":"RP3-UHPFRC","t":535,"v":0.01},{"s":"RP3-UHPFRC","t":545,"v":0},{"s":"RP3-UHPFRC","t":555,"v":0.01},{"s":"RP3-UHPFRC","t":565,"v":0.01},{"s":"RP3-UHPFRC","t":575,"v":0},{"s":"RP3-UHPFRC","t":585,"v":0.01},{"s":"RP3-UHPFRC","t":595,"v":0},{"s":"RP3-UHPFRC","t":605,"v":-0.01},{"s":"RP3-UHPFRC","t":613,"v":-0.02},{"s":"RP3-UHPFRC","t":620,"v":-0.01},{"s":"RP3-UHPFRC","t":630,"v":0},{"s":"RP3-UHPFRC","t":640,"v":0},{"s":"RP3-UHPFRC","t":650,"v":0},{"s":"RP3-UHPFRC","t":660,"v":0.01},{"s":"RP3-UHPFRC","t":670,"v":0},{"s":"RP3-UHPFRC","t":680,"v":0},{"s":"RP3-UHPFRC","t":690,"v":0},{"s":"RP3-UHPFRC","t":700,"v":0.01},{"s":"RP3-UHPFRC","t":710,"v":0},{"s":"RP3-UHPFRC","t":720,"v":0.01},{"s":"RP3-UHPFRC","t":728,"v":0.02},{"s":"RP3-UHPFRC","t":735,"v":0.02},{"s":"RP3-UHPFRC","t":742,"v":0.02},{"s":"RP3-UHPFRC","t":750,"v":0.02},{"s":"RP3-UHPFRC","t":758,"v":0.02},{"s":"RP3-UHPFRC","t":766,"v":0.02},{"s":"RP3-UHPFRC","t":772,"v":0.01},{"s":"RP3-UHPFRC","t":778,"v":0},{"s":"RP3-UHPFRC","t":784,"v":-0.02},{"s":"RP3-UHPFRC","t":791,"v":-0.03},{"s":"RP3-UHPFRC","t":798,"v":-0.02},{"s":"RP3-UHPFRC","t":805,"v":0},{"s":"RP3-UHPFRC","t":812,"v":0},{"s":"RP3-UHPFRC","t":820,"v":0},{"s":"RP3-UHPFRC","t":828,"v":-0.01},{"s":"RP3-UHPFRC","t":835,"v":-0.02},{"s":"RP3-UHPFRC","t":840,"v":-0.02},{"s":"RP3-UHPFRC","t":847,"v":-0.01},{"s":"RP3-UHPFRC","t":854,"v":0},{"s":"RP3-UHPFRC","t":862,"v":0.01},{"s":"RP3-UHPFRC","t":870,"v":0},{"s":"RP3-UHPFRC","t":880,"v":0},{"s":"RP3-UHPFRC","t":890,"v":0.01},{"s":"RP3-UHPFRC","t":900,"v":0},{"s":"RP3-UHPFRC","t":910,"v":-0.01},{"s":"RP3-UHPFRC","t":920,"v":-0.01},{"s":"RP3-UHPFRC","t":930,"v":0},{"s":"RP3-UHPFRC","t":940,"v":0},{"s":"RP3-UHPFRC","t":950,"v":0},{"s":"RP3-UHPFRC","t":960,"v":-0.01},{"s":"RP3-UHPFRC","t":970,"v":0},{"s":"RP3-UHPFRC","t":980,"v":0},{"s":"RP3-UHPFRC","t":990,"v":0.01},{"s":"RP3-UHPFRC","t":1000,"v":0}
]
},
"hconcat":[
{
 "width":498,"height":367,
 "resolve":{"axis":{"x":"independent","y":"independent"}},
 "layer":[
  {"data":{"name":"L"},"mark":{"type":"line","strokeWidth":1.3,"clip":true},
   "encoding":{
    "x":{"field":"t","type":"quantitative","scale":{"domain":[0,1000],"nice":false,"zero":false},
     "axis":{"values":[0,100,200,300,400,500,600,700,800,900,1000],"labelExpr":"datum.value % 200 == 0 ? '' + datum.value : ''","labelOffset":-7,"gridOpacity":{"condition":{"test":"datum.value == 0 || datum.value == 1000","value":0},"value":1},"title":"Time (μs)","titleX":486,"titleY":-19,"titleAlign":"right","titleBaseline":"middle","titleAnchor":null,"titleFontSize":22,"titleColor":"#555"}},
    "y":{"field":"v","type":"quantitative","scale":{"domain":[-25,25],"nice":false,"zero":false},
     "axis":{"values":[-25,-22.5,-20,-17.5,-15,-12.5,-10,-7.5,-5,-2.5,0,2.5,5,7.5,10,12.5,15,17.5,20,22.5,25],"labelExpr":"datum.value % 5 == 0 ? '' + datum.value : ''","gridOpacity":{"condition":{"test":"abs(datum.value) == 25","value":0},"value":1},"title":"Acceleration (10⁻²mm/μs)","titleX":-55,"titleY":175,"titleAlign":"center","titleBaseline":"middle","titleAngle":-90}},
    "color":{"field":"s","type":"nominal","scale":{"domain":["RP1-HSC","RP1-UHPFRC"],"range":["#000000","#ff0000"]},"legend":{"title":null,"legendX":205,"legendY":3}}
   }},
  {"data":{"name":"L"},"mark":{"type":"line","opacity":0},
   "encoding":{
    "x":{"field":"t","type":"quantitative","scale":{"domain":[0,1000],"nice":false,"zero":false},"axis":{"orient":"top","values":[100,200,300,400,500,600,700,800,900],"labels":false,"grid":false,"domain":false,"tickSize":-5,"title":null}},
    "y":{"field":"v","type":"quantitative","scale":{"domain":[-25,25],"nice":false,"zero":false},"axis":{"orient":"right","values":[-22.5,-20,-17.5,-15,-12.5,-10,-7.5,-5,-2.5,0,2.5,5,7.5,10,12.5,15,17.5,20,22.5],"labels":false,"grid":false,"domain":false,"tickSize":-5,"title":null}},
    "detail":{"field":"s"}
   }}
 ]
},
{
 "width":471,"height":367,
 "resolve":{"axis":{"x":"independent","y":"independent"}},
 "layer":[
  {"data":{"name":"R"},"mark":{"type":"line","strokeWidth":1.3,"clip":true},
   "encoding":{
    "x":{"field":"t","type":"quantitative","scale":{"domain":[-8,1000],"nice":false,"zero":false},
     "axis":{"values":[0,100,200,300,400,500,600,700,800,900,1000],"labelExpr":"datum.value % 200 == 0 ? '' + datum.value : ''","gridOpacity":{"condition":{"test":"datum.value == 0 || datum.value == 1000","value":0},"value":1},"title":"Time (μs)","titleX":460,"titleY":-19,"titleAlign":"right","titleBaseline":"middle","titleAnchor":null,"titleFontSize":22,"titleColor":"#555"}},
    "y":{"field":"v","type":"quantitative","scale":{"domain":[-0.3,1.1],"nice":false,"zero":false},
     "axis":{"values":[-0.3,-0.2,-0.1,0,0.1,0.2,0.3,0.4,0.5,0.6,0.7,0.8,0.9,1.0,1.1],"labelExpr":"abs(round(datum.value*10)) % 2 == 0 ? replace(format(datum.value, '.1f'), '−', '-') : ''","gridOpacity":{"condition":{"test":"datum.value < -0.25 || datum.value > 1.05","value":0},"value":1},"title":"Acceleration (10⁻³mm/μs)","titleX":-70,"titleY":203,"titleAlign":"center","titleBaseline":"middle","titleAngle":-90}},
    "color":{"field":"s","type":"nominal","scale":{"domain":["RP3-HSC","RP2-HSC","RP2-UHPFRC","RP3-UHPFRC"],"range":["#000000","#ff0000","#0000ff","#ff00ff"]},"legend":{"title":null,"legendX":232,"legendY":19,"symbolOffset":8,"labelOffset":5}}
   }},
  {"data":{"name":"R"},"mark":{"type":"line","opacity":0},
   "encoding":{
    "x":{"field":"t","type":"quantitative","scale":{"domain":[-8,1000],"nice":false,"zero":false},"axis":{"orient":"top","values":[0,100,200,300,400,500,600,700,800,900],"labels":false,"grid":false,"domain":false,"tickSize":-5,"title":null}},
    "y":{"field":"v","type":"quantitative","scale":{"domain":[-0.3,1.1],"nice":false,"zero":false},"axis":{"orient":"right","values":[-0.2,-0.1,0,0.1,0.2,0.3,0.4,0.5,0.6,0.7,0.8,0.9,1.0],"labels":false,"grid":false,"domain":false,"tickSize":-5,"title":null}},
    "detail":{"field":"s"}
   }}
 ]
}
]
}
